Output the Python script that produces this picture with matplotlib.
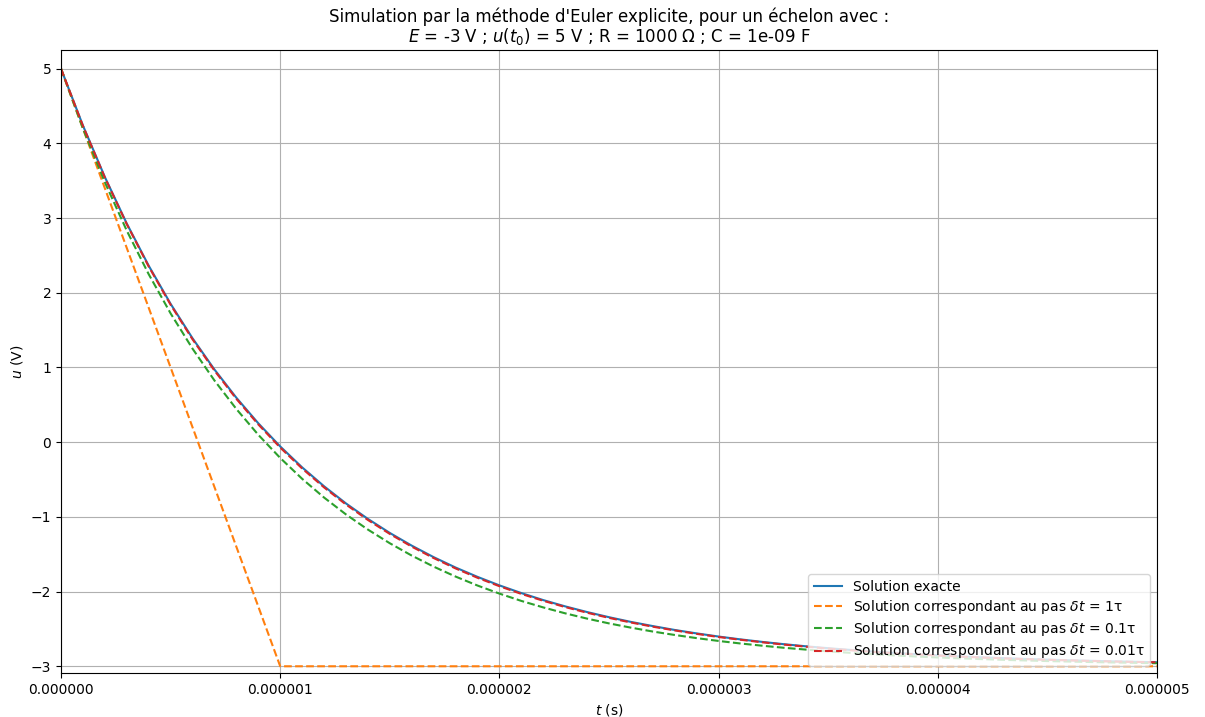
import matplotlib
matplotlib.use('Agg')
import matplotlib.pyplot as plt
from matplotlib.ticker import FormatStrFormatter

# temps (s), echantillonnage tous les 0.1 tau
t = [k * 1e-7 for k in range(51)]

u_exacte = [5.000, 4.239, 3.550, 2.927, 2.363, 1.852, 1.391, 0.973, 0.595, 0.253,
            -0.057, -0.337, -0.590, -0.820, -1.027, -1.215, -1.385, -1.539, -1.678, -1.803,
            -1.917, -2.020, -2.114, -2.198, -2.274, -2.343, -2.406, -2.462, -2.514, -2.560,
            -2.602, -2.640, -2.674, -2.705, -2.733, -2.758, -2.781, -2.802, -2.821, -2.838,
            -2.853, -2.867, -2.880, -2.891, -2.902, -2.911, -2.920, -2.927, -2.934, -2.940,
            -2.946]

t_1 = [0, 1e-6, 2e-6, 3e-6, 4e-6, 5e-6]
u_1 = [5.0, -3.0, -3.0, -3.0, -3.0, -3.0]

u_01 = [5.000, 4.200, 3.480, 2.832, 2.249, 1.724, 1.252, 0.826, 0.444, 0.099,
        -0.211, -0.490, -0.741, -0.967, -1.170, -1.353, -1.518, -1.666, -1.799, -1.919,
        -2.027, -2.125, -2.212, -2.291, -2.362, -2.426, -2.483, -2.535, -2.581, -2.623,
        -2.661, -2.695, -2.725, -2.753, -2.777, -2.800, -2.820, -2.838, -2.854, -2.869,
        -2.882, -2.894, -2.904, -2.914, -2.922, -2.930, -2.937, -2.943, -2.949, -2.954,
        -2.959]

u_001 = [5.000, 4.235, 3.543, 2.918, 2.352, 1.840, 1.377, 0.959, 0.580, 0.238,
         -0.072, -0.352, -0.605, -0.834, -1.041, -1.228, -1.398, -1.551, -1.690, -1.815,
         -1.928, -2.031, -2.123, -2.207, -2.283, -2.352, -2.414, -2.470, -2.520, -2.566,
         -2.608, -2.645, -2.679, -2.710, -2.738, -2.763, -2.785, -2.806, -2.824, -2.841,
         -2.856, -2.870, -2.883, -2.894, -2.904, -2.913, -2.921, -2.929, -2.936, -2.942,
         -2.947]

E = -3
u0 = 5

fig = plt.figure(figsize=(12.05, 7.17), dpi=100)
ax = fig.add_axes([61/1205, 1 - 673/717, (1157-61)/1205, (673-50)/717])

ax.plot(t, u_exacte, label='Solution exacte')
ax.plot(t_1, u_1, '--', label=r'Solution correspondant au pas $\delta t$ = 1τ')
ax.plot(t, u_01, '--', label=r'Solution correspondant au pas $\delta t$ = 0.1τ')
ax.plot(t, u_001, '--', label=r'Solution correspondant au pas $\delta t$ = 0.01τ')

ax.set_xlim(0, 5e-6)
ax.set_ylim(1.03 * E, 1.05 * u0)
ax.xaxis.set_major_formatter(FormatStrFormatter('%.6f'))
ax.grid(True)
ax.set_xlabel('$t$ (s)')
ax.set_ylabel('$u$ (V)')
ax.set_title("Simulation par la méthode d'Euler explicite, pour un échelon avec :\n"
             r"$E$ = -3 V ; $u(t_0)$ = 5 V ; R = 1000 Ω ; C = 1e-09 F",
             linespacing=0.95)
ax.legend(loc='lower right', labelspacing=0.3)

fig.savefig('out.png', dpi=100)
